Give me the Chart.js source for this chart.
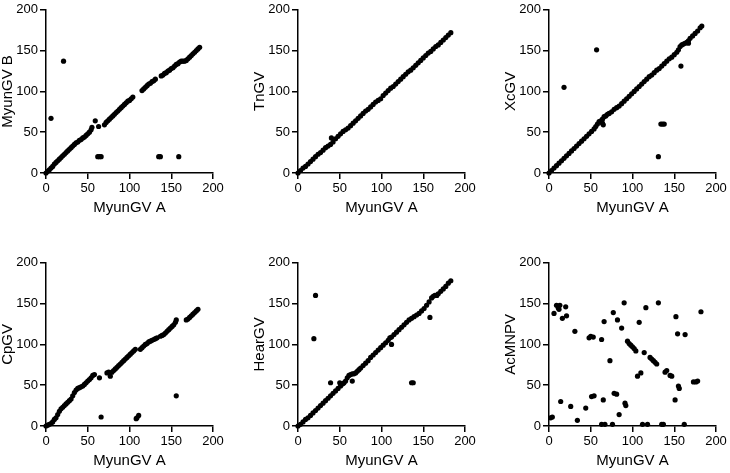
<!DOCTYPE html>
<html>
<head>
<meta charset="utf-8">
<script src="https://cdn.jsdelivr.net/npm/chart.js@4.4.0/dist/chart.umd.min.js"></script>
<style>
  html, body { margin: 0; padding: 0; background: #fff; overflow: hidden; }
  body { width: 730px; height: 473px; position: relative; }
  .panel { position: absolute; width: 227px; height: 220px; }
</style>
</head>
<body>
<div class="panel" style="left:0px;top:0px"><canvas id="c1"></canvas></div>
<div class="panel" style="left:252px;top:0px"><canvas id="c2"></canvas></div>
<div class="panel" style="left:503px;top:0px"><canvas id="c3"></canvas></div>
<div class="panel" style="left:0px;top:253px"><canvas id="c4"></canvas></div>
<div class="panel" style="left:252px;top:253px"><canvas id="c5"></canvas></div>
<div class="panel" style="left:503px;top:253px"><canvas id="c6"></canvas></div>
<script>
// Axis setup shared by every panel
const xTitle = 'MyunGV A';
const axisMin = 0;
const axisMax = 200;
const axisStep = 50;

// MyunGV B vs MyunGV A
const myunBX = [0,2,4,6,8,10,12,14,16,18,20,22,24,26,28,30,32,34,36,38,40,42,44,46,48,50,52,54,55,
  59,63,70,72,74,76,78,80,82,84,86,88,90,92,94,96,98,100,102,104,
  115,117,119,121,123,125,127,129,131,
  138,140,142,144,146,148,150,152,154,156,158,160,162,164,166,168,170,172,174,176,178,180,182,184,
  6,21,62,64,66,135,137,159];
const myunBY = [0,2,4,6,8,11,13,15,17,19,21,23,25,27,29,31,33,35,37,38,40,41,43,44,46,48,50,53,56,
  64,57,59,62,64,66,68,70,72,74,76,78,80,82,84,86,88,89,91,93,
  101,103,105,107,109,110,112,113,115,
  119,120,122,123,125,126,128,129,131,133,134,136,137,137,137,138,140,142,144,146,148,150,152,154,
  67,137,20,20,20,20,20,20];

// TnGV vs MyunGV A
const tnX = [0,3,6,9,12,15,18,21,24,27,30,33,36,39,42,45,48,51,54,57,60,63,66,69,72,75,78,81,84,87,90,
  93,96,99,102,105,108,111,114,117,120,123,126,129,132,135,138,141,144,147,150,153,156,159,162,165,
  168,171,174,177,180,183, 40];
const tnY = [0,3,6,8,11,14,17,20,23,25,28,31,33,35,38,42,45,48,51,53,55,58,61,64,67,70,73,76,78,81,84,
  87,89,91,95,98,101,104,106,109,112,115,118,121,124,126,129,132,135,138,141,144,147,149,152,155,
  157,160,163,166,169,172, 43];

// XcGV vs MyunGV A
const xcX = [0,3,6,9,12,15,18,21,24,27,30,33,36,39,42,45,48,51,54,56,58,60,62,64,66,68,70,72,75,78,81,
  84,87,90,93,96,99,102,105,108,111,114,117,120,123,126,129,132,135,138,141,144,147,150,153,155,157,
  159,161,163,165,167,169,172,175,178,181,183,
  64,65,167,18,57,158,134,136,138,131];
const xcY = [0,3,6,9,12,15,18,21,24,27,30,33,36,39,42,45,48,51,54,57,60,63,64,66,69,70,72,73,75,78,80,
  82,85,88,91,94,97,100,103,106,109,112,115,118,120,123,126,128,131,134,137,140,142,145,148,151,155,
  157,158,159,160,162,165,168,171,174,178,180,
  61,59,159,105,151,131,60,60,60,20];

// CpGV vs MyunGV A
const cpX = [0,2,4,6,8,10,12,14,16,18,20,22,24,26,28,30,32,34,36,38,40,42,44,46,48,50,52,54,56,58,64,
  73,75,77,79,81,83,85,87,89,91,93,95,97,99,101,103,105,107,
  113,115,117,119,121,123,125,127,129,131,133,
  137,139,141,143,145,147,149,151,153,155,156,
  168,170,172,174,176,178,180,182,
  66,108,109,111,156];
const cpY = [0,1,2,3,5,8,10,14,18,21,23,25,27,29,31,33,37,41,44,46,47,48,49,51,53,55,57,59,62,63,59,
  65,66,61,66,68,70,72,74,76,78,80,82,84,86,88,90,92,94,
  94,96,98,100,101,103,104,105,106,107,108,
  110,111,112,114,116,118,120,122,124,127,130,
  130,131,133,135,137,139,141,143,
  11,9,10,13,37];

// HearGV vs MyunGV A
const hearX = [0,3,6,9,12,15,18,21,24,27,30,33,36,39,42,45,48,51,54,57,59,61,63,65,67,69,71,73,75,78,
  81,84,87,90,93,96,99,102,105,108,110,112,115,118,121,124,127,130,133,136,139,142,145,148,151,154,
  157,160,162,164,166,168,171,174,177,180,183,
  21,19,39,50,52,55,65,112,136,138,158,166];
const hearY = [0,2,5,8,10,13,16,19,22,25,28,31,34,37,40,43,46,49,52,55,59,62,63,64,64,65,67,69,71,74,
  77,80,84,87,90,93,96,99,102,105,108,109,112,115,118,121,124,127,130,132,134,136,138,141,144,148,
  152,157,159,160,160,162,165,168,171,175,178,
  160,107,53,53,51,53,55,100,53,53,133,160];

// AcMNPV vs MyunGV A
const acX = [2,4,6,9,11,13,12,16,20,21,14,31,26,34,44,48,50,53,51,54,63,65,66,63,67,73,76,77,78,81,
  82,84,87,90,91,92,94,96,98,100,102,104,106,108,110,112,114,116,118,121,123,125,127,129,131,
  135,137,139,141,145,147,151,152,154,155,156,162,163,173,176,178,182];
const acY = [10,11,138,148,145,148,143,132,146,135,30,116,24,7,22,108,110,109,36,37,106,32,128,2,2,
  80,2,139,40,39,130,14,120,151,28,25,104,101,99,97,95,92,61,127,65,2,90,145,2,84,82,80,78,76,151,
  2,2,66,68,62,61,32,134,113,49,46,2,112,54,54,55,140];

const fontFamily = "'Liberation Sans', Arial, Helvetica, sans-serif";

function toPoints(xs, ys) {
    return xs.map((x, i) => ({ x: x, y: ys[i] }));
}

function axisOptions(title, isX) {
    return {
        type: 'linear',
        min: axisMin,
        max: axisMax,
        ticks: {
            stepSize: axisStep,
            color: '#000',
            padding: 2,
            maxRotation: 0,
            font: { family: fontFamily, size: 13 }
        },
        grid: {
            display: true,
            drawOnChartArea: false,
            drawTicks: true,
            tickLength: 6,
            tickWidth: 1.5,
            color: '#000',
            lineWidth: 1.5
        },
        border: { display: true, color: '#000', width: 1.5 },
        title: {
            display: true,
            text: title,
            color: '#000',
            font: { family: fontFamily, size: 15, lineHeight: 1.07 },
            padding: isX ? { top: 0, bottom: 4 } : { top: 0, bottom: 0 }
        },
        afterFit: function(scale) {
            if (isX) scale.height = 47;
            else scale.width = 46;
        }
    };
}

function makePanel(id, yTitle, xs, ys) {
    const ctx = document.getElementById(id).getContext('2d');
    return new Chart(ctx, {
        type: 'scatter',
        data: {
            datasets: [{
                data: toPoints(xs, ys),
                backgroundColor: '#000',
                borderWidth: 0,
                pointRadius: 2.6,
                pointHoverRadius: 2.6,
                clip: false
            }]
        },
        options: {
            responsive: true,
            maintainAspectRatio: false,
            animation: false,
            layout: { padding: { top: 7, right: 14, bottom: 0, left: 0 } },
            plugins: {
                legend: { display: false },
                tooltip: { enabled: false }
            },
            scales: {
                x: axisOptions(xTitle, true),
                y: axisOptions(yTitle, false)
            }
        }
    });
}

makePanel('c1', 'MyunGV B', myunBX, myunBY);
makePanel('c2', 'TnGV', tnX, tnY);
makePanel('c3', 'XcGV', xcX, xcY);
makePanel('c4', 'CpGV', cpX, cpY);
makePanel('c5', 'HearGV', hearX, hearY);
makePanel('c6', 'AcMNPV', acX, acY);
</script>
</body>
</html>
